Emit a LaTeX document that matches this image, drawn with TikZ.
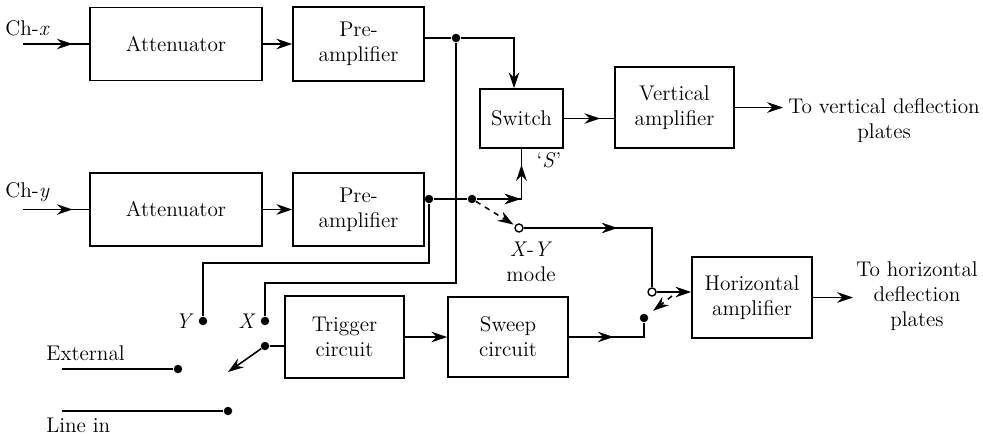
\documentclass[tikz,border=0pt]{standalone}
\usepackage{fontspec}
\usetikzlibrary{arrows.meta,decorations.markings}
\tikzset{
  block/.style={draw, line width=0.9pt, align=center, inner sep=0pt},
  wire/.style={line width=0.9pt},
  arr/.style={wire, -{Stealth[length=9pt,width=6pt,inset=3pt]}},
  midarr/.style={wire, postaction={decorate}, decoration={markings, mark=at position #1 with {\arrow{Stealth[length=9pt,width=6pt,inset=3pt]}}}},
  lever/.style={wire, dash pattern=on 3pt off 3pt, -{Stealth[length=9pt,width=6pt,inset=3pt]}},
  dot/.style={circle, fill, inner sep=0pt, minimum size=0.17cm},
  opendot/.style={circle, draw, line width=0.8pt, fill=white, inner sep=0pt, minimum size=0.16cm},
  txt/.style={inner sep=0pt, align=center}
}

\begin{document}
\begin{tikzpicture}[x=0.02cm, y=-0.02cm, every node/.append style={font=\fontsize{12.1}{14.2}\selectfont}]
  \useasboundingbox (0,0) rectangle (983,436);

  \node[block, minimum width=3.44cm, minimum height=1.46cm] (att1) at (176,44) {Attenuator};
  \node[block, minimum width=2.62cm, minimum height=1.48cm] (pre1) at (358.5,44) {Pre-\\amplifier};
  \node[block, minimum width=3.44cm, minimum height=1.46cm] (att2) at (176,209.5) {Attenuator};
  \node[block, minimum width=2.62cm, minimum height=1.46cm] (pre2) at (358.5,209.5) {Pre-\\amplifier};
  \node[block, minimum width=1.66cm, minimum height=1.18cm] (switch) at (521.5,118.5) {Switch};
  \node[block, minimum width=2.38cm, minimum height=1.62cm] (vamp) at (674.5,107.5) {Vertical\\amplifier};
  \node[block, minimum width=2.40cm, minimum height=1.62cm] (hamp) at (752,297.5) {Horizontal\\amplifier};
  \node[block, minimum width=2.38cm, minimum height=1.64cm] (trig) at (344.5,337) {Trigger\\circuit};
  \node[block, minimum width=2.40cm, minimum height=1.60cm] (sweep) at (508,337) {Sweep\\circuit};

  \node[dot] (jx) at (456,38) {};
  \node[dot] (jy) at (429,199) {};
  \node[dot] (js) at (472,199) {};
  \node[opendot] (xy) at (519,228) {};
  \node[opendot] (hsw) at (652,292) {};
  \node[dot] (sdot) at (644,318) {};
  \node[dot] (ydot) at (203,321) {};
  \node[dot] (xdot) at (265,321) {};
  \node[dot] (tdot) at (265,346) {};
  \node[dot] (edot) at (178,369) {};
  \node[dot] (ldot) at (228,411) {};

  \coordinate (chx) at (23,44);
  \coordinate (chy) at (23,209.5);
  \coordinate (ext) at (62,369);
  \coordinate (linein) at (62,411);
  \coordinate (tout) at (228,372);
  \coordinate (sw) at (672,296);
  \coordinate (vout) at (783,107.5);
  \coordinate (hout) at (853,297.5);

  \node[txt, anchor=west] (chxl) at (5,28) {Ch-\textit{x}};
  \node[txt, anchor=west] (chyl) at (5,192) {Ch-\textit{y}};
  \node[txt] (sl) at (549,160) {`\textit{S}'};
  \node[txt] (xyl) at (531,262) {\textit{X}-\textit{Y}\\mode};
  \node[txt, anchor=east] (yl) at (194,321) {\textit{Y}};
  \node[txt, anchor=east] (xl) at (256,321) {\textit{X}};
  \node[txt, anchor=west] (extl) at (46,353) {External};
  \node[txt, anchor=west] (linl) at (46,425) {Line in};
  \node[txt, anchor=west] (vtxt) at (788,121) {To vertical deflection\\plates};
  \node[txt] (htxt) at (917,296) {To horizontal\\deflection\\plates};

  \draw[midarr=0.75] (chx) -- (att1.west |- chx);
  \draw[arr] (att1) -- (pre1);
  \draw[wire] (pre1.east |- jx) -- (jx);
  \draw[arr] (jx) -| ([xshift=-0.15cm]switch.north);
  \draw[wire] (jx) -- (456,283) -| (xdot);

  \draw[midarr=0.75] (chy) -- (att2.west |- chy);
  \draw[arr] (att2) -- (pre2);
  \draw[wire] (pre2.east |- jy) -- (jy) -- (js);
  \draw[wire] (jy) -- (429,263) -| (ydot);
  \draw[midarr=0.46, postaction={decorate, decoration={markings, mark=at position 0.83 with {\arrow{Stealth[length=9pt,width=6pt,inset=3pt]}}}}] (js) -| (switch.south);
  \draw[lever, shorten >=1pt] (js) -- (xy);
  \draw[midarr=0.5] (xy) -| (hsw);

  \draw[midarr=0.72] (switch) -- (vamp.west |- switch);
  \draw[arr] (vamp) -- (vout);

  \draw[arr] (hsw) -- (hamp.west |- hsw);
  \draw[lever, shorten >=4pt] (sw) -- (sdot);
  \draw[midarr=0.5] (sweep) -| (sdot);
  \draw[arr] (hamp) -- (hout);

  \draw[arr] (trig) -- (sweep);
  \draw[wire] (trig.west |- tdot) -- (tdot);
  \draw[arr] (tdot) -- (tout);
  \draw[wire] (ext) -- (edot);
  \draw[wire] (linein) -- (ldot);
\end{tikzpicture}
\end{document}
